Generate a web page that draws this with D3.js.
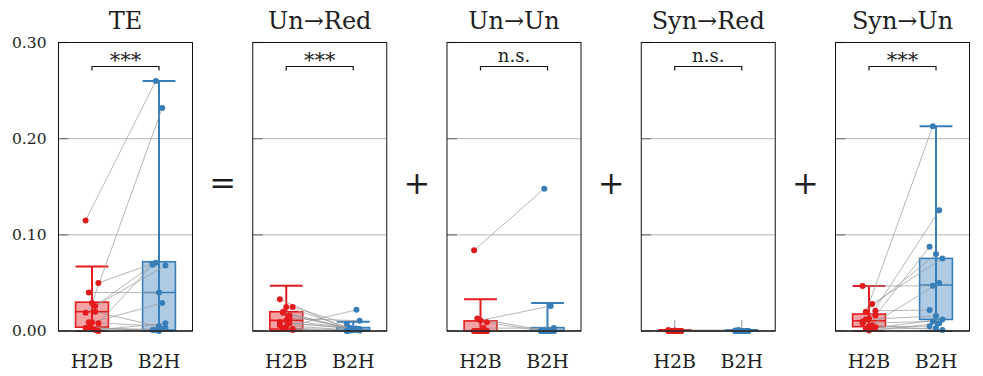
<!DOCTYPE html>
<html><head><meta charset="utf-8">
<script src="https://cdn.jsdelivr.net/npm/d3@7"></script>
<style>body{margin:0;background:#fff}svg{display:block}text{font-family:"DejaVu Serif",serif;fill:#1e1e1e}</style>
</head><body><svg id="c" width="983" height="376"></svg>
<script>
const panels = ["TE", "Un→Red", "Un→Un", "Syn→Red", "Syn→Un"];
const groups = ["H2B", "B2H"];
const operators = ["=", "+", "+", "+"];
const sigLabels = ["***", "***", "n.s.", "n.s.", "***"];
const yTicks = [0, 0.1, 0.2, 0.3];

// paired per-subject values (H2B, B2H)
const teH2B = [0.115, 0.029, 0.050, 0.040, 0.026, 0.019, 0.009, 0.008, 0.009, 0.020, 0.003, 0.002, 0.000, 0.004, 0.001];
const teB2H = [0.260, 0.232, 0.070, 0.040, 0.068, 0.071, 0.029, 0.069, 0.005, 0.003, 0.001, 0.002, 0.001, 0.000, 0.008];
const urH2B = [0.033, 0.025, 0.025, 0.019, 0.013, 0.009, 0.0045, 0.001, 0.020, 0.016, 0.006, 0.011, 0.002, 0.003, 0.008];
const urB2H = [0.0005, 0.001, 0.0073, 0.002, 0.0107, 0.003, 0.022, 0.000, 0.001, 0.0005, 0.001, 0.0025, 0.000, 0.001, 0.002];
const uuH2B = [0.084, 0.011, 0.009, 0.013, 0.003, 0.000, 0.000, 0.000, 0.000, 0.000, 0.000, 0.000, 0.000, 0.000, 0.000];
const uuB2H = [0.148, 0.026, 0.000, 0.000, 0.003, 0.000, 0.000, 0.000, 0.000, 0.000, 0.000, 0.000, 0.000, 0.000, 0.000];
const srH2B = [0.001, 0.0005, 0.000, 0.000, 0.000, 0.000, 0.000, 0.000, 0.000, 0.000, 0.000, 0.000, 0.000, 0.000, 0.000];
const srB2H = [0.001, 0.000, 0.0005, 0.000, 0.000, 0.000, 0.000, 0.000, 0.000, 0.000, 0.000, 0.000, 0.000, 0.000, 0.000];
const suH2B = [0.010, 0.013, 0.016, 0.020, 0.028, 0.0467, 0.005, 0.021, 0.012, 0.003, 0.008, 0.0005, 0.004, 0.002, 0.006];
const suB2H = [0.213, 0.1256, 0.0875, 0.080, 0.0755, 0.047, 0.050, 0.0218, 0.0156, 0.012, 0.010, 0.008, 0.005, 0.003, 0.001];

// box statistics [q1, median, q3, whiskerLow, whiskerHigh]
const teBoxH2B = [0.004, 0.020, 0.030, 0, 0.067];
const teBoxB2H = [0.001, 0.040, 0.072, 0, 0.260];
const urBoxH2B = [0.002, 0.011, 0.020, 0, 0.047];
const urBoxB2H = [0.000, 0.001, 0.0035, 0, 0.0097];
const uuBoxH2B = [0.000, 0.000, 0.0105, 0, 0.033];
const uuBoxB2H = [0.000, 0.0005, 0.0035, 0, 0.029];
const srBoxH2B = [0.000, 0.000, 0.0006, 0, 0.0011];
const srBoxB2H = [0.000, 0.000, 0.0006, 0, 0.0011];
const suBoxH2B = [0.0045, 0.0107, 0.0176, 0, 0.0467];
const suBoxB2H = [0.012, 0.0478, 0.0755, 0, 0.213];

const values = [[teH2B, teB2H], [urH2B, urB2H], [uuH2B, uuB2H], [srH2B, srB2H], [suH2B, suB2H]];
const boxes = [[teBoxH2B, teBoxB2H], [urBoxH2B, urBoxB2H], [uuBoxH2B, uuBoxB2H], [srBoxH2B, srBoxB2H], [suBoxH2B, suBoxB2H]];
const colors = {H2B: "#e41a1c", B2H: "#377eb8"};

const svg = d3.select("#c");
const xPanel = d3.scaleBand().domain(panels).range([58.5, 969.5]).paddingInner(60.25 / 194.25).paddingOuter(0);
const w = xPanel.bandwidth();
const xg = d3.scalePoint().domain(groups).range([0, w]).padding(0.5);
const y = d3.scaleLinear().domain([0, 0.3]).range([331, 42.5]);
const boxW = w * 0.245, capW = w * 0.2;
const jit = i => ((i * 7) % 5 - 2) * 3.2;

panels.forEach((p, pi) => {
  const g = svg.append("g").attr("transform", `translate(${xPanel(p)},0)`);
  g.selectAll(".grid").data(yTicks.filter(t => t > 0 && t < 0.3)).join("line")
    .attr("x1", 0).attr("x2", w).attr("y1", d => y(d)).attr("y2", d => y(d))
    .attr("stroke", "#b5b5b5").attr("stroke-width", 1);
  g.selectAll(".yt").data(yTicks).join("line")
    .attr("x1", 0).attr("x2", 10).attr("y1", d => y(d)).attr("y2", d => y(d))
    .attr("stroke", "#777").attr("stroke-width", 1.2);
  g.selectAll(".xt").data(groups).join("line")
    .attr("x1", d => xg(d)).attr("x2", d => xg(d)).attr("y1", y(0)).attr("y2", y(0) - 11)
    .attr("stroke", "#999").attr("stroke-width", 1);
  groups.forEach((gr, gi) => {
    const b = boxes[pi][gi], cx = xg(gr), c = colors[gr];
    g.append("line").attr("x1", cx).attr("x2", cx).attr("y1", y(b[3])).attr("y2", y(b[4]))
      .attr("stroke", c).attr("stroke-width", 2);
    g.append("rect").attr("x", cx - boxW / 2).attr("width", boxW)
      .attr("y", y(b[2])).attr("height", Math.max(0.5, y(b[0]) - y(b[2])))
      .attr("fill", c).attr("fill-opacity", 0.4).attr("stroke", c).attr("stroke-width", 1.6);
    g.append("line").attr("x1", cx - boxW / 2).attr("x2", cx + boxW / 2).attr("y1", y(b[1])).attr("y2", y(b[1]))
      .attr("stroke", c).attr("stroke-width", 1.6);
    [b[3], b[4]].forEach(v => g.append("line").attr("x1", cx - capW / 2 - 3).attr("x2", cx + capW / 2 + 3)
      .attr("y1", y(v)).attr("y2", y(v)).attr("stroke", c).attr("stroke-width", 2));
  });
  const [a, bb] = values[pi];
  g.selectAll(".pair").data(a).join("line")
    .attr("x1", (d, i) => xg("H2B") + jit(i)).attr("y1", d => y(d))
    .attr("x2", (d, i) => xg("B2H") + jit(i + 3)).attr("y2", (d, i) => y(bb[i]))
    .attr("stroke", "#999").attr("stroke-width", 0.8).attr("stroke-opacity", 0.9);
  groups.forEach((gr, gi) => {
    g.selectAll(".pt" + gi).data(values[pi][gi]).join("circle")
      .attr("cx", (d, i) => xg(gr) + jit(i + gi * 3)).attr("cy", d => y(d)).attr("r", 3)
      .attr("fill", colors[gr]);
  });
  g.append("line").attr("x1", 0).attr("x2", w).attr("y1", y(0)).attr("y2", y(0))
    .attr("stroke", "#555").attr("stroke-width", 1.6);
  g.append("rect").attr("x", 0).attr("y", y(0.3)).attr("width", w).attr("height", y(0) - y(0.3))
    .attr("fill", "none").attr("stroke", "#111").attr("stroke-width", 1);
  const by = 66.5;
  g.append("path").attr("d", `M${xg("H2B")},${by + 4}V${by}H${xg("B2H")}V${by + 4}`)
    .attr("fill", "none").attr("stroke", "#111").attr("stroke-width", 1.2);
  const star = sigLabels[pi] === "***";
  g.append("text").attr("x", w / 2).attr("y", star ? 67 : 62).attr("text-anchor", "middle")
    .style("font-size", star ? "21px" : "18px").text(sigLabels[pi]);
  g.append("text").attr("x", w / 2).attr("y", 29).attr("text-anchor", "middle").style("font-size", "24px").text(p);
  g.selectAll(".xl").data(groups).join("text").attr("x", d => xg(d)).attr("y", 368)
    .attr("text-anchor", "middle").style("font-size", "19px").text(d => d);
});

svg.append("g").attr("transform", `translate(${xPanel(panels[0])},0)`)
  .call(d3.axisLeft(y).tickValues(yTicks).tickFormat(d3.format(".2f")).tickSize(0).tickPadding(12))
  .call(s => s.select(".domain").remove())
  .call(s => s.selectAll("text").style("font-size", "15.5px").style("font-family", "DejaVu Serif").attr("fill", "#1e1e1e"));

svg.selectAll(".op").data(operators).join("text")
  .attr("x", (d, i) => xPanel(panels[i]) + w + (xPanel(panels[i + 1]) - xPanel(panels[i]) - w) / 2)
  .attr("y", 194).attr("text-anchor", "middle").style("font-size", "32px").text(d => d);
</script></body></html>
